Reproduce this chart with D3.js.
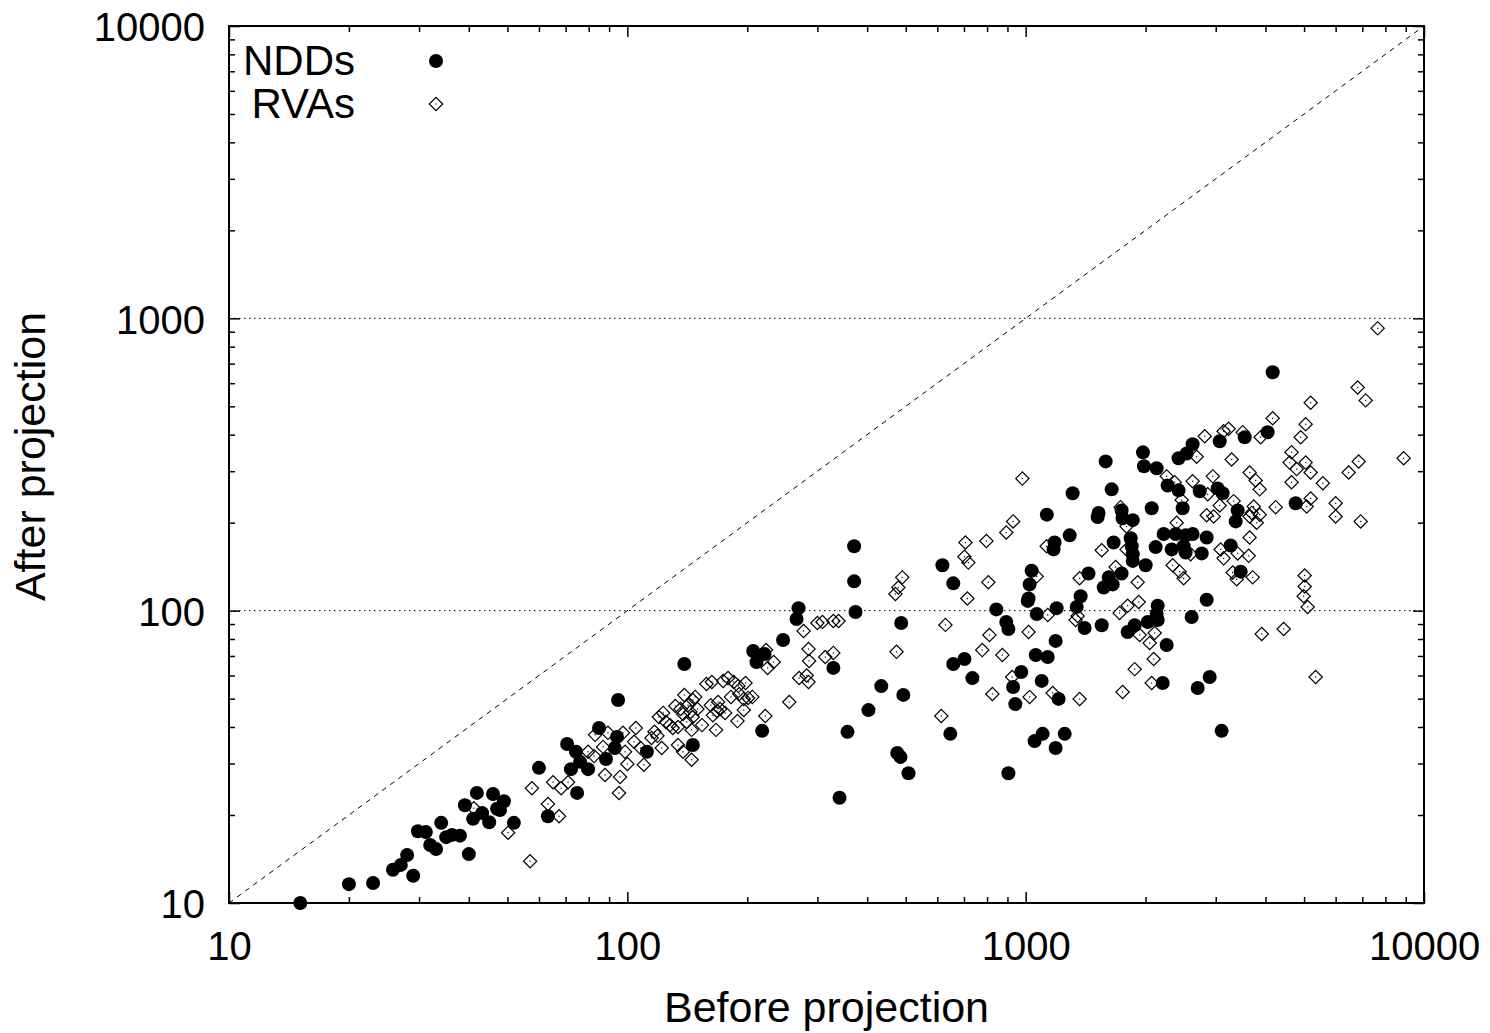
<!DOCTYPE html>
<html>
<head>
<meta charset="utf-8">
<script src="https://cdnjs.cloudflare.com/ajax/libs/d3/7.8.5/d3.min.js"></script>
<style>
  body { margin: 0; background: #fff; }
  text { font-family: "Liberation Sans", Arial, Helvetica, sans-serif; fill: #000; }
</style>
</head>
<body>
<div id="container"></div>
<script>
// NDDs (filled circles), before / after projection
const nddBefore = [15.1, 20, 23, 25.8, 27, 29, 28, 29.8, 31.2, 32, 33.1, 34.1, 35.1, 36.3, 38, 40, 39.1, 41.9, 41, 43.2,
  45, 46, 49, 47.1, 47.9, 51.9, 60, 63.2, 70.6, 74.8, 74.3, 72.2, 76.1, 79.7, 84.9, 88.4, 94.2, 93, 94.8,
  139, 112, 146, 218, 207, 221, 211, 246, 269, 266, 329, 371, 371, 374, 487, 434, 493, 403, 357, 476, 485, 508, 341,
  618, 658, 844, 894, 905, 702, 658, 735, 930, 975, 647, 905, 942,
  1012, 1066, 1196, 1343, 1406, 1552, 1189, 1060, 1136, 1097, 1210, 1053, 1103, 1253, 1189,
  1588, 1970, 1981, 2132, 2625, 2536, 2420, 3070, 3547, 4050, 4170, 1644, 2272, 2420, 2735, 3034, 3122, 2478, 2072,
  1312, 1130, 1524, 1516, 1741, 1751, 1857, 3406, 3367, 4763, 2220, 2380, 2521, 2625, 2847, 1290, 1182, 1175, 1663,
  1835, 1846, 1857, 1857, 2001, 2120, 2326, 2492, 2521, 2767, 3270, 3466, 1035, 1023, 1017, 1438, 1616, 1570, 1654,
  1741, 1374, 2847, 2145, 2132, 2145, 2025, 1878, 1803, 2610, 2259, 2208, 2897, 2703, 3104];
const nddAfter = [10, 11.6, 11.7, 13, 13.5, 12.4, 14.6, 17.6, 17.5, 15.8, 15.3, 18.8, 16.8, 17.1, 17, 14.7, 21.6, 23.8, 19.4, 20.3,
  18.9, 23.6, 22.3, 21, 20.8, 18.8, 29, 19.8, 35, 23.8, 32.9, 28.7, 30.4, 28.7, 39.7, 31.1, 37, 33.9, 49.5,
  65.7, 32.9, 34.7, 38.8, 72.8, 71.1, 66.7, 79.4, 102, 93.7, 63.7, 166, 126, 99, 90.7, 55.2, 51.5, 45.7, 38.5, 32.6, 31.6, 27.8, 22.9,
  143, 124, 101, 91.5, 86.6, 68.3, 65.7, 58.8, 54.8, 61.7, 37.9, 27.8, 47.9,
  108, 97.4, 102, 103, 87.2, 89.1, 78.8, 70.5, 69.4, 57.5, 49.9, 35.8, 37.9, 37.9, 33.9,
  324, 348, 312, 307, 371, 345, 332, 380, 392, 408, 654, 260, 268, 258, 256, 262, 252, 224, 224,
  252, 213, 216, 209, 220, 207, 204, 220, 202, 233, 183, 183, 181, 183, 178, 181, 171, 162, 171,
  177, 166, 156, 148, 143, 165, 162, 166, 158, 157, 167, 136, 137, 123, 110, 134, 130, 120, 123,
  134, 112, 109, 104, 97.4, 92.9, 91.5, 89.1, 84.5, 95.1, 76.3, 56.6, 59.3, 54.4, 38.8];

// RVAs (open diamonds), before / after projection
const rvaBefore = [41.2, 50.2, 57, 57.6, 63.2, 65.1, 67.4, 68.2, 71, 87.9, 95.3, 95.9, 83, 89.4, 97.5, 79.7, 82.5, 86.9, 98.7, 100,
  105, 104, 108, 110, 117, 119, 115, 120, 123, 122, 125, 128, 130, 134, 132, 136, 138, 139, 142, 146,
  148, 144, 150, 146, 141, 134, 145, 138, 145, 154, 158, 163, 167, 164, 168, 171, 176, 162, 169, 174,
  179, 185, 190, 198, 182, 191, 196, 201, 206, 196, 189, 222, 225, 233, 223, 255, 270, 282, 285, 277,
  285, 286, 300, 309, 329, 339, 314, 329, 471, 479, 490, 474, 614, 629, 706, 797, 894, 930, 702, 718,
  806, 714, 811, 778, 874, 925, 825, 981,
  1129, 1066, 1552, 1792, 1682, 1731, 1792, 2394, 2625, 2259, 2366, 2687, 2464, 2339, 2436, 2492, 2595, 1366, 1136, 1017,
  1023, 1169, 1366, 1335, 1350, 1721, 1803, 1922, 1911, 1933, 2048, 2108, 2096, 1878, 2072, 1751,
  2815, 3140, 3232, 3506, 3890, 4903, 3290, 4650, 4600, 4790, 5046, 5194, 3650, 3780, 3868, 4650, 5573, 6470, 6855, 8890,
  7650, 6815, 7138, 5194, 4170, 5046, 2950, 2864, 3070, 3328, 3737, 3694, 3868, 3802, 3650, 4243, 5075, 5194, 6001, 6001,
  6935, 2847, 2965, 3650, 3087, 3140, 3406, 3630, 3310, 3387, 3715, 5017, 5017, 4988, 5104, 3914, 4444, 5346];
const rvaAfter = [21.1, 17.4, 13.9, 24.7, 21.8, 25.9, 19.8, 24.7, 25.9, 27.4, 23.8, 27, 37.6, 38.2, 38.2, 32.9, 31.8, 34.2, 32.9, 29.9,
  39.7, 35.6, 33.9, 29.7, 38.5, 37.3, 36.7, 43.3, 44.7, 33.9, 41.6, 40.6, 39.7, 34.7, 47.2, 46.1, 44.3, 51.5, 47.5, 49.5,
  50.7, 45, 46.1, 43.3, 41.6, 40, 39.1, 32.9, 30.9, 40.6, 56.1, 57, 39.1, 43.9, 45.4, 46.1, 44.7, 47.5, 48.7, 57.5,
  58.8, 57, 55.3, 56.6, 50.7, 51.9, 49.9, 50.3, 50.7, 45.7, 41.9, 43.6, 63.7, 66.7, 73.3, 48.7, 58.8, 60, 57, 85.2,
  73.9, 67.3, 90.7, 91.5, 92.2, 92.2, 69.4, 71.7, 114, 120, 130, 72.3, 43.6, 89.4, 171, 173, 185, 202, 153, 146,
  125, 110, 82.6, 73.3, 70.5, 59.3, 51.9, 283,
  166, 131, 161, 162, 141, 226, 194, 200, 277, 288, 275, 336, 239, 143, 136, 129, 156, 129, 96.6, 84.5,
  50.7, 52.3, 49.9, 92.9, 95.9, 98.2, 104, 107, 125, 82.6, 77.5, 83.9, 68.3, 63.1, 56.6, 52.7,
  395, 411, 419, 408, 392, 392, 329, 348, 321, 305, 321, 297, 297, 279, 260, 275, 273, 297, 324, 332,
  924, 580, 524, 514, 455, 434, 288, 250, 229, 237, 227, 216, 213, 200, 210, 226, 227, 242, 233, 210,
  202, 212, 210, 178, 162, 151, 157, 154, 135, 128, 130, 132, 121, 112, 103, 83.2, 86.6, 59.3];

const majorTicks = [10, 100, 1000, 10000];
const minorTicks = [20, 30, 40, 50, 60, 70, 80, 90, 200, 300, 400, 500, 600, 700, 800, 900,
  2000, 3000, 4000, 5000, 6000, 7000, 8000, 9000];
const legendLabels = ['NDDs', 'RVAs'];

const margin = { top: 26, right: 66, bottom: 130, left: 229 };
const width = 1490 - margin.left - margin.right;
const height = 1033 - margin.top - margin.bottom;

const svg = d3.select('#container').append('svg')
  .attr('width', 1490)
  .attr('height', 1033);

const chart = svg.append('g')
  .attr('transform', `translate(${margin.left}, ${margin.top})`);

const xScale = d3.scaleLog().domain([10, 10000]).range([0, width]);
const yScale = d3.scaleLog().domain([10, 10000]).range([height, 0]);

// horizontal grid (dotted)
chart.append('g')
  .selectAll('line')
  .data(majorTicks.slice(1, -1))
  .enter()
  .append('line')
  .attr('x1', 0)
  .attr('x2', width)
  .attr('y1', (d) => yScale(d))
  .attr('y2', (d) => yScale(d))
  .attr('stroke', '#000')
  .attr('stroke-width', 1)
  .attr('stroke-dasharray', '1.5,3.5');

// y = x reference line
chart.append('line')
  .attr('x1', xScale(10))
  .attr('y1', yScale(10))
  .attr('x2', xScale(10000))
  .attr('y2', yScale(10000))
  .attr('stroke', '#000')
  .attr('stroke-width', 1)
  .attr('stroke-dasharray', '5,5');

// ticks, all four sides, pointing inwards
const tickStyle = (g) => {
  g.select('.domain').remove();
  g.selectAll('line').attr('stroke', '#000').attr('stroke-width', 1.5);
};

const labelStyle = (g) => {
  g.selectAll('text')
    .style('font-size', '40px')
    .style('font-family', '"Liberation Sans", Arial, sans-serif')
    .attr('fill', '#000');
};

chart.append('g')
  .attr('transform', `translate(0,${height})`)
  .call(d3.axisBottom(xScale).tickValues(majorTicks).tickSize(-11).tickPadding(29).tickFormat(d3.format('d')))
  .call(tickStyle)
  .call(labelStyle);

chart.append('g')
  .attr('transform', `translate(0,${height})`)
  .call(d3.axisBottom(xScale).tickValues(minorTicks).tickSize(-6).tickFormat(''))
  .call(tickStyle);

chart.append('g')
  .call(d3.axisTop(xScale).tickValues(majorTicks).tickSize(-11).tickFormat(''))
  .call(tickStyle);

chart.append('g')
  .call(d3.axisTop(xScale).tickValues(minorTicks).tickSize(-6).tickFormat(''))
  .call(tickStyle);

chart.append('g')
  .call(d3.axisLeft(yScale).tickValues(majorTicks).tickSize(-11).tickPadding(24).tickFormat(d3.format('d')))
  .call(tickStyle)
  .call(labelStyle)
  .selectAll('text')
  .attr('dy', '0.37em');

chart.append('g')
  .call(d3.axisLeft(yScale).tickValues(minorTicks).tickSize(-6).tickFormat(''))
  .call(tickStyle);

chart.append('g')
  .attr('transform', `translate(${width},0)`)
  .call(d3.axisRight(yScale).tickValues(majorTicks).tickSize(-11).tickFormat(''))
  .call(tickStyle);

chart.append('g')
  .attr('transform', `translate(${width},0)`)
  .call(d3.axisRight(yScale).tickValues(minorTicks).tickSize(-6).tickFormat(''))
  .call(tickStyle);

// frame
chart.append('rect')
  .attr('width', width)
  .attr('height', height)
  .attr('fill', 'none')
  .attr('stroke', '#000')
  .attr('stroke-width', 2);

// NDDs
const ndd = nddBefore.map((b, i) => ({ before: b, after: nddAfter[i] }));
chart.append('g')
  .selectAll('circle')
  .data(ndd)
  .enter()
  .append('circle')
  .attr('cx', (d) => xScale(d.before))
  .attr('cy', (d) => yScale(d.after))
  .attr('r', 7)
  .attr('fill', '#000');

// RVAs
const rva = rvaBefore.map((b, i) => ({ before: b, after: rvaAfter[i] }));
const diamond = d3.symbol().type(d3.symbolSquare).size(88);
const rvaGroups = chart.append('g')
  .selectAll('g')
  .data(rva)
  .enter()
  .append('g')
  .attr('transform', (d) => `translate(${xScale(d.before)},${yScale(d.after)})`);

rvaGroups.append('path')
  .attr('d', diamond)
  .attr('transform', 'rotate(45)')
  .attr('fill', 'none')
  .attr('stroke', '#000')
  .attr('stroke-width', 1.2);

rvaGroups.append('rect')
  .attr('x', -0.6)
  .attr('y', -0.6)
  .attr('width', 1.2)
  .attr('height', 1.2)
  .attr('fill', '#000');

// legend
const legend = svg.append('g');
legend.append('text')
  .attr('x', 355)
  .attr('y', 75)
  .attr('text-anchor', 'end')
  .style('font-size', '42px')
  .text(legendLabels[0]);
legend.append('circle')
  .attr('cx', 436)
  .attr('cy', 61)
  .attr('r', 7)
  .attr('fill', '#000');

legend.append('text')
  .attr('x', 355)
  .attr('y', 118)
  .attr('text-anchor', 'end')
  .style('font-size', '42px')
  .text(legendLabels[1]);
const legendDiamond = legend.append('g')
  .attr('transform', 'translate(436,104)');
legendDiamond.append('path')
  .attr('d', diamond)
  .attr('transform', 'rotate(45)')
  .attr('fill', 'none')
  .attr('stroke', '#000')
  .attr('stroke-width', 1.2);
legendDiamond.append('rect')
  .attr('x', -0.6)
  .attr('y', -0.6)
  .attr('width', 1.2)
  .attr('height', 1.2)
  .attr('fill', '#000');

// axis titles
svg.append('text')
  .attr('transform', `translate(45, ${margin.top + height / 2 - 8}) rotate(-90)`)
  .attr('text-anchor', 'middle')
  .style('font-size', '43px')
  .text('After projection');

svg.append('text')
  .attr('x', margin.left + width / 2)
  .attr('y', 1022)
  .attr('text-anchor', 'middle')
  .style('font-size', '43px')
  .text('Before projection');
</script>
</body>
</html>
